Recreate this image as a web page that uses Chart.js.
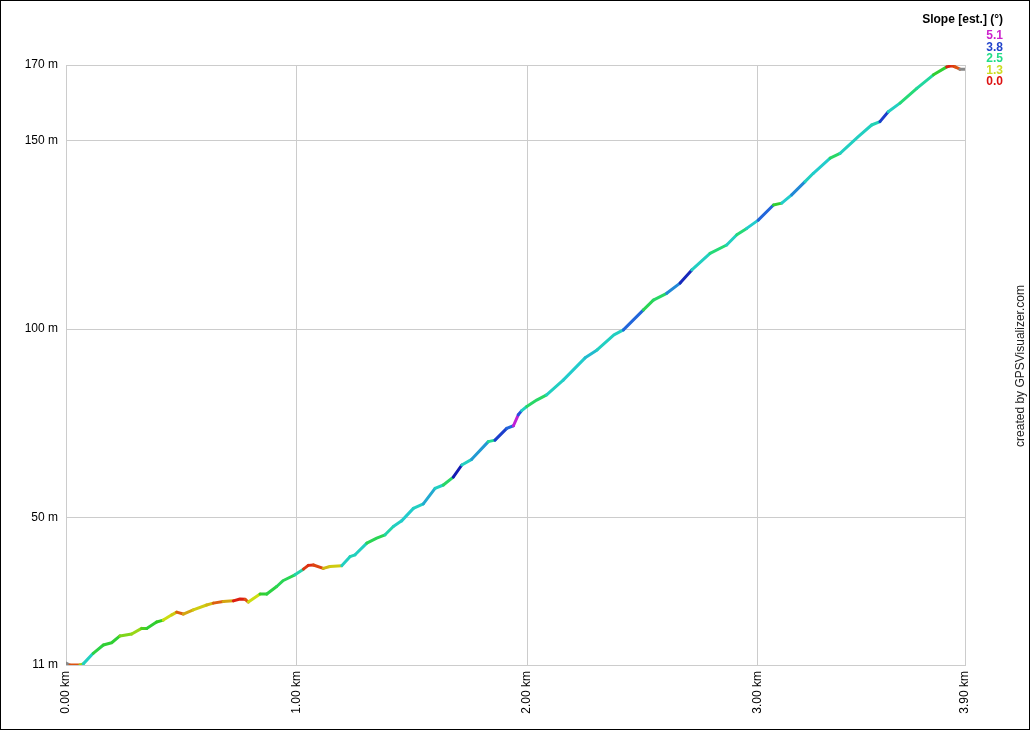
<!DOCTYPE html>
<html>
<head>
<meta charset="utf-8">
<script src="https://cdn.jsdelivr.net/npm/chart.js@4/dist/chart.umd.min.js"></script>
<style>
  body { margin: 0; background: #fff; }
  canvas { display: block; }
</style>
</head>
<body>
<canvas id="profile" width="1030" height="730"></canvas>
<script>
// distance along track (km)
const distKm = [0.000, 0.017, 0.061, 0.075, 0.118, 0.162, 0.198, 0.234, 0.285, 0.328,
  0.350, 0.393, 0.422, 0.459, 0.480, 0.509, 0.552, 0.610, 0.639, 0.682,
  0.726, 0.755, 0.777, 0.791, 0.842, 0.871, 0.914, 0.943, 0.993, 1.030,
  1.051, 1.073, 1.116, 1.145, 1.196, 1.232, 1.254, 1.305, 1.348, 1.384,
  1.420, 1.456, 1.507, 1.550, 1.601, 1.637, 1.680, 1.717, 1.760, 1.832,
  1.861, 1.912, 1.941, 1.962, 1.977, 1.999, 2.042, 2.085, 2.157, 2.252,
  2.304, 2.377, 2.418, 2.505, 2.548, 2.606, 2.664, 2.715, 2.794, 2.866,
  2.910, 2.953, 3.003, 3.069, 3.105, 3.148, 3.206, 3.242, 3.315, 3.358,
  3.437, 3.495, 3.531, 3.567, 3.618, 3.691, 3.763, 3.821, 3.843, 3.857,
  3.878, 3.900];

// elevation (m)
const elevM = [11.5, 11.0, 11.0, 11.3, 14.1, 16.3, 16.9, 18.7, 19.2, 20.7,
  20.7, 22.4, 22.9, 24.3, 25.0, 24.5, 25.6, 26.9, 27.4, 27.8,
  28.0, 28.5, 28.4, 27.7, 29.8, 29.8, 31.8, 33.4, 34.9, 36.4,
  37.4, 37.5, 36.6, 37.1, 37.3, 39.7, 40.2, 43.3, 44.6, 45.5,
  47.7, 49.2, 52.5, 53.7, 57.8, 58.7, 60.8, 64.0, 65.5, 70.2,
  70.6, 73.7, 74.4, 77.3, 78.4, 79.5, 81.2, 82.6, 86.5, 92.4,
  94.5, 98.5, 99.8, 105.1, 107.7, 109.5, 112.2, 115.7, 120.1, 122.3,
  125.0, 126.7, 128.9, 132.9, 133.4, 135.6, 139.1, 141.3, 145.3, 146.6,
  151.0, 154.1, 155.0, 157.6, 159.9, 163.8, 167.4, 169.5, 169.8, 169.5,
  168.9, 168.9];

// estimated slope (deg) of the segment ending at each point, read from the line colour
const slopeDeg = [null, null, 0.5, 1.5, 3.0, 2.1, 2.0, 2.0, 1.6, 1.5,
  1.8, 2.0, 1.9, 1.3, 1.2, 0.6, 1.0, 1.2, 1.1, 0.6,
  1.0, 0.1, 0.1, 0.5, 1.3, 2.0, 2.1, 2.2, 2.2, 2.8,
  0.3, 0.2, 0.4, 1.1, 1.2, 3.0, 2.9, 3.0, 2.2, 2.2,
  2.8, 3.0, 3.1, 3.0, 3.3, 3.0, 2.3, 4.3, 3.0, 3.4,
  2.6, 4.0, 3.7, 5.0, 3.8, 3.0, 2.3, 2.3, 3.0, 3.1,
  3.2, 3.0, 3.0, 3.7, 2.2, 2.3, 3.5, 4.2, 3.0, 2.4,
  3.0, 2.4, 3.1, 3.7, 2.0, 3.1, 3.5, 3.0, 3.1, 2.3,
  3.0, 3.0, 2.9, 4.0, 3.0, 2.4, 2.7, 2.0, 0.1, 0.3,
  0.5, null];

const xTicks = [0, 1, 2, 3, 3.9];
const yTicks = [11, 50, 100, 150, 170];
const legendValues = [5.1, 3.8, 2.5, 1.3, 0.0];
const legendColors = ['#cc22cc', '#2244cc', '#22dd88', '#ccdd22', '#dd1111'];

// colour ramp for the slope
const rampStops = [0, 0.65, 1.3, 1.9, 2.5, 3.1, 3.8, 4.4, 5.1];
const rampColors = [[221,17,17],[221,102,17],[204,221,17],[51,204,34],[34,221,136],
  [34,204,204],[34,85,221],[17,17,170],[221,34,221]];

function slopeColor(s) {
  if (s === null || s === undefined) return '#888888';
  if (s <= rampStops[0]) return 'rgb(' + rampColors[0].join(',') + ')';
  for (let i = 1; i < rampStops.length; i++) {
    if (s <= rampStops[i]) {
      const t = (s - rampStops[i-1]) / (rampStops[i] - rampStops[i-1]);
      const a = rampColors[i-1], b = rampColors[i];
      const c = a.map((v, k) => Math.round(v + (b[k] - v) * t));
      return 'rgb(' + c.join(',') + ')';
    }
  }
  return 'rgb(' + rampColors[rampColors.length-1].join(',') + ')';
}

const points = [];
for (let i = 0; i < distKm.length; i++) {
  points.push({x: distKm[i], y: elevM[i]});
}

const FONT = 'Liberation Sans, Arial, sans-serif';

const extras = {
  id: 'extras',
  afterDraw(chart) {
    const ctx = chart.ctx;
    ctx.save();
    // legend for the slope colours
    ctx.textAlign = 'right';
    ctx.textBaseline = 'middle';
    ctx.fillStyle = '#000';
    ctx.font = 'bold 12px ' + FONT;
    ctx.fillText('Slope [est.] (°)', 1003, 20);
    for (let i = 0; i < legendValues.length; i++) {
      ctx.fillStyle = legendColors[i];
      ctx.fillText(legendValues[i].toFixed(1), 1003, 36 + i * 11.5);
    }
    // credit
    ctx.translate(1021, 366);
    ctx.rotate(-Math.PI / 2);
    ctx.textAlign = 'center';
    ctx.fillStyle = '#222';
    ctx.font = '12px ' + FONT;
    ctx.fillText('created by GPSVisualizer.com', 0, 0);
    ctx.restore();
    // outer frame
    ctx.save();
    ctx.strokeStyle = '#000';
    ctx.lineWidth = 1;
    ctx.strokeRect(0.5, 0.5, chart.width - 1, chart.height - 1);
    ctx.restore();
  }
};

const directory = document.getElementById('profile');

const data = {
  datasets: [{
    data: points,
    borderWidth: 3,
    pointRadius: 0,
    tension: 0,
    borderCapStyle: 'round',
    borderJoinStyle: 'round',
    borderColor: '#888',
    segment: {
      borderColor: c => slopeColor(slopeDeg[c.p1DataIndex])
    }
  }]
};

const config = {
  type: 'line',
  data: data,
  plugins: [extras],
  options: {
    responsive: false,
    animation: false,
    devicePixelRatio: 1,
    layout: { padding: { top: 65, right: 65, left: 0, bottom: 0 } },
    plugins: { legend: { display: false }, tooltip: { enabled: false } },
    scales: {
      x: {
        type: 'linear',
        min: 0,
        max: 3.9,
        afterBuildTicks: s => { s.ticks = xTicks.map(v => ({value: v})); },
        afterFit: s => { s.height = 65; },
        grid: { color: '#cccccc', drawTicks: false },
        border: { color: '#cccccc' },
        ticks: {
          autoSkip: false,
          minRotation: 90,
          maxRotation: 90,
          padding: 6,
          color: '#000',
          font: { family: FONT, size: 12 },
          callback: v => v.toFixed(2) + ' km'
        }
      },
      y: {
        type: 'linear',
        min: 11,
        max: 170,
        afterBuildTicks: s => { s.ticks = yTicks.map(v => ({value: v})); },
        afterFit: s => { s.width = 66; },
        grid: { color: '#cccccc', drawTicks: false },
        border: { color: '#cccccc' },
        ticks: {
          padding: 8,
          color: '#000',
          font: { family: FONT, size: 12 },
          callback: v => v + ' m'
        }
      }
    }
  }
};

const profileChart = new Chart(directory, config);
</script>
</body>
</html>
